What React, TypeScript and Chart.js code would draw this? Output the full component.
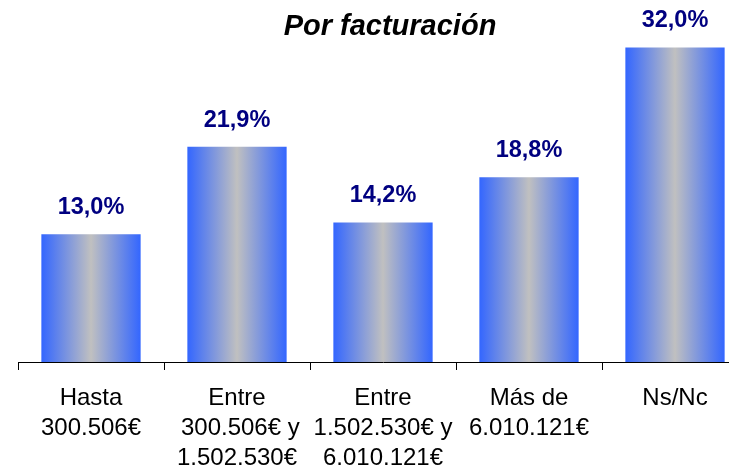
import React, { useEffect, useRef } from "react";
import { Chart, registerables } from "chart.js";

Chart.register(...registerables);

const TITLE = "Por facturación";
const CATEGORIES: string[][] = [
  ["Hasta", "300.506€"],
  ["Entre", " 300.506€ y", "1.502.530€"],
  ["Entre", "1.502.530€ y", "6.010.121€"],
  ["Más de", "6.010.121€"],
  ["Ns/Nc"],
];
const VALUES: number[] = [13.0, 21.9, 14.2, 18.8, 32.0];
const Y_MAX = 35;

const BAR_PCT = 0.68;

export default function App() {
  const ref = useRef<HTMLCanvasElement | null>(null);

  useEffect(() => {
    if (!ref.current) return;
    const labelsPlugin = {
      id: "customText",
      beforeDatasetsDraw(chart: any) {
        const meta = chart.getDatasetMeta(0);
        meta.data.forEach((el: any) => {
          const hw = el.width / 2;
          if (!isFinite(el.x) || !isFinite(hw)) return;
          const g = chart.ctx.createLinearGradient(el.x - hw, 0, el.x + hw, 0);
          g.addColorStop(0, "#3366FF");
          g.addColorStop(0.5, "#C0C0C0");
          g.addColorStop(1, "#3366FF");
          el.options.backgroundColor = g;
        });
      },
      afterDatasetsDraw(chart: any) {
        const ctx = chart.ctx;
        ctx.save();
        ctx.font = "bold 23.5px 'Liberation Sans', Arial, sans-serif";
        ctx.fillStyle = "#000080";
        ctx.textAlign = "center";
        ctx.textBaseline = "alphabetic";
        const meta = chart.getDatasetMeta(0);
        meta.data.forEach((el: any, i: number) => {
          const txt = VALUES[i].toFixed(1).replace(".", ",") + "%";
          ctx.fillText(txt, el.x, el.y - 20);
        });
        ctx.font = "italic bold 29px 'Liberation Sans', Arial, sans-serif";
        ctx.fillStyle = "#000";
        ctx.fillText(TITLE, 390, 35);
        ctx.restore();
      },
    };

    const chart = new Chart(ref.current, {
      type: "bar",
      data: {
        labels: CATEGORIES as any,
        datasets: [
          {
            data: VALUES,
            borderWidth: 0,
            barPercentage: BAR_PCT,
            categoryPercentage: 1,
            backgroundColor: (c: any) => "#3366FF",
          },
        ],
      },
      options: {
        responsive: false,
        animation: false,
        layout: { padding: { left: 18, right: 12, top: 18, bottom: 0 } },
        plugins: {
          legend: { display: false },
          tooltip: { enabled: false },
          title: { display: false },
        },
        scales: {
          x: {
            grid: {
              display: true,
              drawOnChartArea: false,
              drawTicks: true,
              tickLength: 8,
              color: "#000",
              offset: true,
            },
            border: { display: true, color: "#000", width: 1 },
            ticks: {
              color: "#000",
              padding: 13,
              maxRotation: 0,
              autoSkip: false,
              font: { family: "'Liberation Sans', Arial, sans-serif", size: 24, lineHeight: 1.26 },
            },
            afterFit: (s: any) => {
              s.height = 105;
            },
          },
          y: {
            display: false,
            min: 0,
            max: Y_MAX,
          },
        },
      },
      plugins: [labelsPlugin],
    });
    return () => chart.destroy();
  }, []);

  return (
    <div
      style={{
        position: "fixed",
        left: 0,
        top: 0,
        width: 729,
        height: 467,
        overflow: "hidden",
        background: "#fff",
      }}
    >
      <canvas ref={ref} width={760} height={467} style={{ display: "block" }} />
    </div>
  );
}
